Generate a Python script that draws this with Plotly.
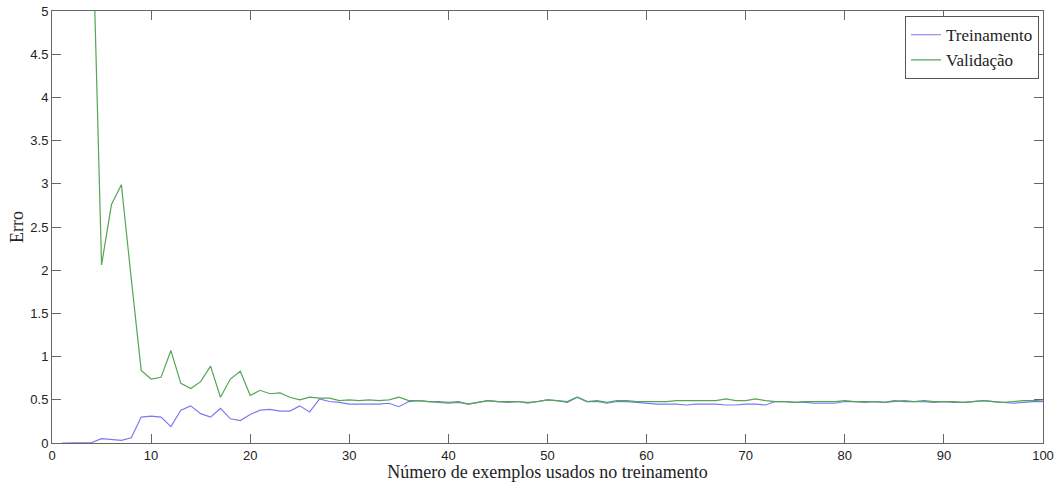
import plotly.graph_objects as go

x_vals = list(range(1, 101))

treinamento = [
    0.0, 0.0, 0.0, 0.005, 0.05, 0.04, 0.03, 0.06, 0.30, 0.31,
    0.30, 0.19, 0.38, 0.43, 0.34, 0.30, 0.40, 0.28, 0.26, 0.33,
    0.38, 0.39, 0.37, 0.37, 0.43, 0.36, 0.51, 0.48, 0.47, 0.45,
    0.45, 0.45, 0.45, 0.46, 0.42, 0.48, 0.49, 0.48, 0.47, 0.46,
    0.47, 0.45, 0.47, 0.49, 0.48, 0.47, 0.48, 0.46, 0.48, 0.50,
    0.49, 0.47, 0.53, 0.48, 0.48, 0.46, 0.48, 0.48, 0.47, 0.46,
    0.45, 0.45, 0.45, 0.44, 0.45, 0.45, 0.45, 0.44, 0.44, 0.45,
    0.45, 0.44, 0.48, 0.48, 0.47, 0.47, 0.46, 0.46, 0.46, 0.48,
    0.48, 0.47, 0.48, 0.47, 0.48, 0.49, 0.48, 0.48, 0.47, 0.48,
    0.47, 0.47, 0.48, 0.49, 0.48, 0.47, 0.46, 0.47, 0.48, 0.48,
]

validacao = [
    25.0, 18.0, 12.0, 6.4, 2.06, 2.76, 2.99, 1.90, 0.84, 0.74,
    0.76, 1.07, 0.69, 0.63, 0.71, 0.89, 0.53, 0.74, 0.83, 0.55,
    0.61, 0.57, 0.58, 0.53, 0.50, 0.53, 0.52, 0.52, 0.49, 0.50,
    0.49, 0.50, 0.49, 0.50, 0.53, 0.49, 0.49, 0.48, 0.48, 0.47,
    0.48, 0.45, 0.47, 0.49, 0.48, 0.48, 0.48, 0.47, 0.48, 0.50,
    0.49, 0.48, 0.53, 0.48, 0.49, 0.47, 0.49, 0.49, 0.48, 0.48,
    0.48, 0.48, 0.49, 0.49, 0.49, 0.49, 0.49, 0.51, 0.49, 0.49,
    0.51, 0.49, 0.48, 0.48, 0.47, 0.48, 0.48, 0.48, 0.48, 0.49,
    0.48, 0.48, 0.48, 0.47, 0.49, 0.48, 0.48, 0.49, 0.48, 0.48,
    0.48, 0.47, 0.48, 0.49, 0.48, 0.47, 0.48, 0.49, 0.49, 0.50,
]

y_ticks = [0, 0.5, 1, 1.5, 2, 2.5, 3, 3.5, 4, 4.5, 5]
y_tick_labels = ["0", "0.5", "1", "1.5", "2", "2.5", "3", "3.5", "4", "4.5", "5"]
x_ticks = [0, 10, 20, 30, 40, 50, 60, 70, 80, 90, 100]

fig = go.Figure()
fig.add_trace(go.Scatter(x=x_vals, y=treinamento, mode="lines", name="Treinamento",
                         line=dict(color="#7a7af2", width=1.2)))
fig.add_trace(go.Scatter(x=x_vals, y=validacao, mode="lines", name="Validação",
                         line=dict(color="#55a555", width=1.2)))

axis_common = dict(
    showgrid=False, zeroline=False, showline=True, linecolor="#666666", linewidth=1,
    mirror="ticks", ticks="inside", ticklen=9, tickcolor="#666666", automargin=False,
    tickfont=dict(family="Liberation Sans, Arial", size=13, color="#222222"),
)

fig.update_layout(
    width=1059, height=482,
    margin=dict(l=52, r=16, t=11, b=39),
    paper_bgcolor="white", plot_bgcolor="white",
    showlegend=True,
    legend=dict(x=0.996, y=0.988, xanchor="right", yanchor="top",
                bgcolor="white", bordercolor="#555555", borderwidth=1,
                font=dict(family="Liberation Serif, Times New Roman", size=17, color="#222222"),
                tracegroupgap=0, itemwidth=30),
    xaxis=dict(range=[0, 100], tickvals=x_ticks, ticktext=[str(v) for v in x_ticks],
               title=dict(text="Número de exemplos usados no treinamento", standoff=0,
                          font=dict(family="Liberation Serif, Times New Roman", size=18, color="#222222")),
               **axis_common),
    yaxis=dict(range=[0, 5], tickvals=y_ticks, ticktext=y_tick_labels,
               title=dict(text="Erro", standoff=2,
                          font=dict(family="Liberation Serif, Times New Roman", size=18, color="#222222")),
               **axis_common),
)

fig.write_html("out.html", config={"displayModeBar": False},
               post_script="document.body.style.margin='0';document.body.style.overflow='hidden';")
